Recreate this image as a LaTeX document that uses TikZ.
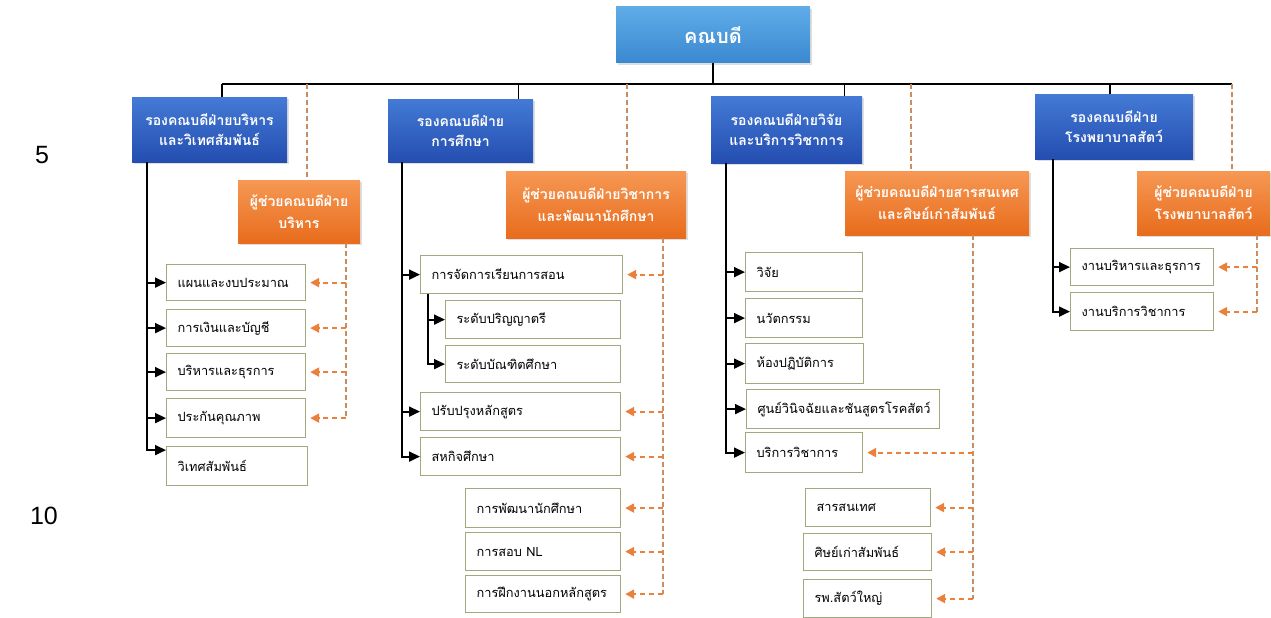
\documentclass[tikz,border=0pt]{standalone}
\usepackage{fontspec}
\setmainfont{Liberation Sans}
\newfontfamily\thaifont[Script=Thai]{Loma}
\usetikzlibrary{arrows.meta}
\usetikzlibrary{shadows}

\definecolor{deantop}{RGB}{96,172,232}
\definecolor{deanbot}{RGB}{58,136,208}
\definecolor{vptop}{RGB}{68,122,214}
\definecolor{vpbot}{RGB}{36,78,176}
\definecolor{astop}{RGB}{246,152,84}
\definecolor{asbot}{RGB}{232,108,28}
\definecolor{leafline}{RGB}{158,170,126}
\definecolor{dashline}{RGB}{200,142,98}
\definecolor{dashtip}{RGB}{234,128,58}

\tikzset{
  boxshade/.style={drop shadow={opacity=.25,shadow xshift=1.5pt,shadow yshift=-2pt}},
  deanbox/.style={boxshade,top color=deantop,bottom color=deanbot,text=white,
    font=\thaifont\bfseries\fontsize{20}{24}\selectfont},
  vpbox/.style={boxshade,top color=vptop,bottom color=vpbot,text=white,align=center,
    font=\thaifont\bfseries\fontsize{14}{20}\selectfont},
  asbox/.style={boxshade,top color=astop,bottom color=asbot,text=white,align=center,
    font=\thaifont\bfseries\fontsize{14}{22}\selectfont},
  leaf/.style={draw=leafline,fill=white,line width=1.2pt,anchor=north west,
    minimum height=38,inner xsep=11,inner ysep=0,align=left,text width=#1,
    font=\thaifont\fontsize{12.8}{15}\selectfont},
  leaf/.default=110,
  tree/.style={line width=1.8pt,-{Triangle[length=11pt,width=10pt]}},
  bus/.style={line width=1.6pt},
  dline/.style={draw=dashline,line width=1.1pt,dash pattern=on 5pt off 3pt},
  darrow/.style={draw=dashtip,line width=2pt,dash pattern=on 5pt off 4pt,
    -{Triangle[length=9pt,width=9pt]},shorten >=4pt},
  pagenum/.style={font=\fontsize{25}{25}\selectfont}
}

\begin{document}
\begin{tikzpicture}[x=1pt,y=-1pt]
  \useasboundingbox (0,0) rectangle (1271,618);
  \fill[white] (0,0) rectangle (1271,618);

  % page line numbers
  \node[pagenum] (numfive) at (42,155) {5};
  \node[pagenum] (numten) at (44,516) {10};

  % dean and deputies
  \node[deanbox,minimum width=194,minimum height=56] (dean) at (713,35) {คณบดี};
  \node[vpbox,minimum width=155,minimum height=65] (vpa) at (209.5,129.5)
    {รองคณบดีฝ่ายบริหาร\\และวิเทศสัมพันธ์};
  \node[vpbox,minimum width=145,minimum height=63] (vpb) at (460.5,130.5)
    {รองคณบดีฝ่าย\\การศึกษา};
  \node[vpbox,minimum width=151,minimum height=67] (vpc) at (786.5,129.5)
    {รองคณบดีฝ่ายวิจัย\\และบริการวิชาการ};
  \node[vpbox,minimum width=158,minimum height=65] (vpd) at (1114,126.5)
    {รองคณบดีฝ่าย\\โรงพยาบาลสัตว์};

  % assistants
  \node[asbox,minimum width=122,minimum height=63] (asa) at (299,211.5)
    {ผู้ช่วยคณบดีฝ่าย\\บริหาร};
  \node[asbox,minimum width=180,minimum height=67] (asb) at (596,204.5)
    {ผู้ช่วยคณบดีฝ่ายวิชาการ\\และพัฒนานักศึกษา};
  \node[asbox,minimum width=184,minimum height=64] (asc) at (937,203)
    {ผู้ช่วยคณบดีฝ่ายสารสนเทศ\\และศิษย์เก่าสัมพันธ์};
  \node[asbox,minimum width=133,minimum height=64] (asd) at (1203.5,203)
    {ผู้ช่วยคณบดีฝ่าย\\โรงพยาบาลสัตว์};

  % column 1
  \node[leaf=117,minimum height=36] (plan) at (166,264) {แผนและงบประมาณ};
  \node[leaf=117,minimum height=37] (fin) at (166,309) {การเงินและบัญชี};
  \node[leaf=117,minimum height=37] (admin) at (166,353) {บริหารและธุรการ};
  \node[leaf=117,minimum height=39] (qa) at (166,398) {ประกันคุณภาพ};
  \node[leaf=119,minimum height=39] (intl) at (166,446) {วิเทศสัมพันธ์};

  % column 2
  \node[leaf=180] (teach) at (420,255) {การจัดการเรียนการสอน};
  \node[leaf=153] (bach) at (445,300) {ระดับปริญญาตรี};
  \node[leaf=153,minimum height=37] (grad) at (445,345) {ระดับบัณฑิตศึกษา};
  \node[leaf=178] (curr) at (420,392) {ปรับปรุงหลักสูตร};
  \node[leaf=178] (coop) at (420,437) {สหกิจศึกษา};
  \node[leaf=133,minimum height=39] (dev) at (465,488) {การพัฒนานักศึกษา};
  \node[leaf=133] (nl) at (465,532) {การสอบ NL};
  \node[leaf=133,minimum height=37] (intern) at (465,575) {การฝึกงานนอกหลักสูตร};

  % column 3
  \node[leaf=95,minimum height=39] (res) at (745,252) {วิจัย};
  \node[leaf=95,minimum height=39] (innov) at (745,298) {นวัตกรรม};
  \node[leaf=96,minimum height=40] (lab) at (745,343) {ห้องปฏิบัติการ};
  \node[leaf=171,minimum height=39] (diag) at (746,389) {ศูนย์วินิจฉัยและชันสูตรโรคสัตว์};
  \node[leaf=95,minimum height=40] (servi) at (745,432) {บริการวิชาการ};
  \node[leaf=103] (info) at (805,488) {สารสนเทศ};
  \node[leaf=106,minimum height=37] (alum) at (803,533) {ศิษย์เก่าสัมพันธ์};
  \node[leaf=106] (large) at (803,579) {รพ.สัตว์ใหญ่};

  % column 4
  \node[leaf=121,minimum height=37] (adm) at (1070,248) {งานบริหารและธุรการ};
  \node[leaf=121] (srv) at (1070,292) {งานบริการวิชาการ};

  % bus line
  \coordinate (busl) at (222,84);
  \coordinate (busr) at (1232,84);
  \draw[bus] (busl) -- (busr);
  \draw[bus] (dean) -- (dean |- busl);
  \draw[bus] (busl) -- (busl |- vpa.north);
  \draw[bus] ([xshift=58]vpb.north) -- ([xshift=58]vpb.north |- busl);
  \draw[bus] ([xshift=58]vpc.north) -- ([xshift=58]vpc.north |- busl);
  \draw[bus] ([xshift=-4]vpd.north) -- ([xshift=-4]vpd.north |- busl);

  % trunks
  \coordinate (ta) at (147,0);
  \coordinate (tb) at (402,0);
  \coordinate (tbb) at (428,0);
  \coordinate (tc) at (726,0);
  \coordinate (td) at (1053,0);
  \foreach \leaf in {plan,fin,admin,qa}
    \draw[tree] (vpa.south -| ta) |- (\leaf.west);
  \draw[tree] (vpa.south -| ta) |- ([yshift=16]intl.west);
  \foreach \leaf in {teach,curr,coop}
    \draw[tree] (vpb.south -| tb) |- (\leaf.west);
  \foreach \leaf in {bach,grad}
    \draw[tree] (teach.south -| tbb) |- (\leaf.west);
  \foreach \leaf in {res,innov,lab,diag,servi}
    \draw[tree] (vpc.south -| tc) |- (\leaf.west);
  \foreach \leaf in {adm,srv}
    \draw[tree] (vpd.south -| td) |- (\leaf.west);

  % assistant lines
  \coordinate (dta) at (307,0);
  \coordinate (dtb) at (627,0);
  \coordinate (dtc) at (911,0);
  \draw[dline] (busl -| dta) -- (asa.north -| dta);
  \draw[dline] (busl -| dtb) -- (asb.north -| dtb);
  \draw[dline] (busl -| dtc) -- (asc.north -| dtc);
  \draw[dline] (busr) -- (asd.north -| busr);

  \coordinate (da) at (346,0);
  \coordinate (db) at (663,0);
  \coordinate (dc) at (973,0);
  \coordinate (dd) at (1257,0);
  \draw[dline] (asa.south -| da) -- (qa.east -| da);
  \draw[dline] (asb.south -| db) -- (intern.east -| db);
  \draw[dline] (asc.south -| dc) -- (large.east -| dc);
  \draw[dline] (asd.south -| dd) -- (srv.east -| dd);
  \foreach \leaf in {plan,fin,admin,qa}
    \draw[darrow] (\leaf.east -| da) -- (\leaf.east);
  \foreach \leaf in {teach,curr,coop,dev,nl,intern}
    \draw[darrow] (\leaf.east -| db) -- (\leaf.east);
  \foreach \leaf in {servi,info,alum,large}
    \draw[darrow] (\leaf.east -| dc) -- (\leaf.east);
  \foreach \leaf in {adm,srv}
    \draw[darrow] (\leaf.east -| dd) -- (\leaf.east);
\end{tikzpicture}
\end{document}
